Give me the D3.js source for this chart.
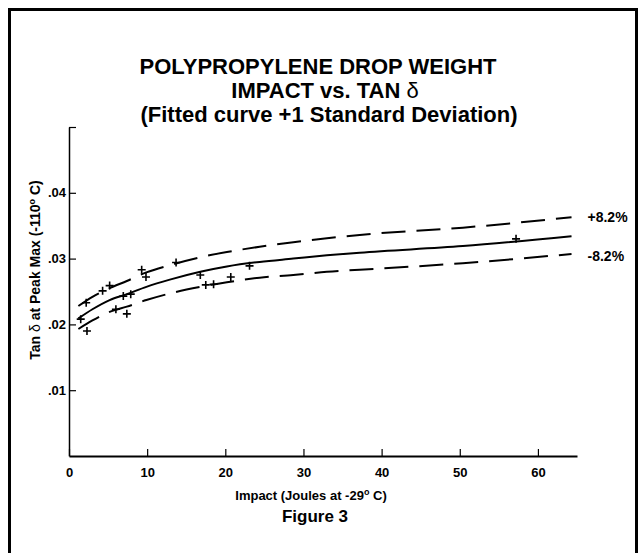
<html lang="en">
  <head>
    <meta charset="UTF-8" />
    <title>Polypropylene drop weight impact vs tan delta</title>
    <script src="https://d3js.org/d3.v7.min.js"></script>
  </head>
  <style>
    body { margin: 0; background: #fff; }
    text { font-family: "Liberation Sans", Arial, sans-serif; fill: #000; }
  </style>
  <body>
    <svg></svg>
  </body>
  <footer>
    <script>
      // fitted curve and the +/- 8.2% band
      var curveX = [1.2, 3, 5.2, 7.4, 9.9, 12.9, 16.8, 20.2, 24.4, 28.7, 33, 37.2, 50.4, 64.3];
      var fitY = [0.0209, 0.0223, 0.0237, 0.0246, 0.0257, 0.0268, 0.028, 0.0288, 0.0295, 0.03, 0.0305, 0.0309, 0.0319, 0.0334];
      var upperY = [0.0228, 0.0242, 0.0255, 0.0266, 0.0279, 0.029, 0.0302, 0.031, 0.0318, 0.0325, 0.0331, 0.0336, 0.0347, 0.0363];
      var lowerY = [0.0193, 0.0206, 0.0219, 0.0227, 0.0237, 0.0247, 0.0257, 0.0264, 0.0271, 0.0275, 0.028, 0.0283, 0.0293, 0.0307];

      // measured points
      var pointX = [1.5, 2.2, 2.3, 4.3, 5.2, 6.0, 6.95, 7.9, 7.4, 9.3, 9.85, 13.7, 16.8, 17.5, 18.5, 20.7, 23.1, 57.2];
      var pointY = [0.0208, 0.0233, 0.019, 0.0251, 0.0259, 0.0223, 0.0243, 0.0246, 0.0216, 0.0283, 0.0272, 0.0294, 0.0275, 0.026, 0.0261, 0.0272, 0.0289, 0.033];

      var xTicks = [0, 10, 20, 30, 40, 50, 60];
      var yTicks = [0.01, 0.02, 0.03, 0.04, 0.05];
      var bandLabels = ["+8.2%", "-8.2%"];

      var width = 639;
      var height = 553;

      var svg = d3.select("svg").attr("width", width).attr("height", height);

      // outer frame (bottom edge runs off the page)
      svg
        .append("rect")
        .attr("x", 9.5)
        .attr("y", 9.5)
        .attr("width", 627)
        .attr("height", 580)
        .style("fill", "none")
        .style("stroke", "#000")
        .style("stroke-width", 3);

      var x = d3.scaleLinear().domain([0, 65]).range([69, 577]);
      var y = d3.scaleLinear().domain([0, 0.05]).range([456, 127]);

      // title
      var title = svg
        .append("text")
        .attr("text-anchor", "middle")
        .style("font-size", "22px")
        .style("font-weight", "bold");
      title.append("tspan").attr("x", 318).attr("y", 74).text("POLYPROPYLENE DROP WEIGHT");
      var t2 = title.append("tspan").attr("x", 325).attr("y", 98);
      t2.append("tspan").text("IMPACT vs. TAN ");
      t2.append("tspan").style("font-weight", "normal").text("\u03b4");
      title.append("tspan").attr("x", 329).attr("y", 122).text("(Fitted curve +1 Standard Deviation)");

      // axes
      var xAxis = d3
        .axisBottom(x)
        .tickValues(xTicks)
        .tickSizeInner(-7)
        .tickSizeOuter(0)
        .tickPadding(12)
        .tickFormat(d3.format("d"));

      var yAxis = d3
        .axisLeft(y)
        .tickValues(yTicks)
        .tickSizeInner(-7)
        .tickSizeOuter(0)
        .tickPadding(3)
        .tickFormat(function (d) {
          return d === 0.05 ? "" : d3.format(".2f")(d).replace(/^0/, "");
        });

      var gx = svg.append("g").attr("transform", "translate(0," + y(0) + ")").call(xAxis);
      gx.selectAll("text").style("font-size", "13px").style("font-weight", "bold");
      gx.select(".domain").style("stroke-width", 2);

      var gy = svg.append("g").attr("transform", "translate(" + x(0) + ",0)").call(yAxis);
      gy.selectAll("text").style("font-size", "13px").style("font-weight", "bold");
      gy.select(".domain").style("stroke-width", 1.5);

      svg.selectAll(".tick line").style("stroke-width", 1.2);

      // axis titles
      var yTitle = svg
        .append("text")
        .attr("transform", "translate(40,270) rotate(-90)")
        .attr("text-anchor", "middle")
        .style("font-size", "14px")
        .style("font-weight", "bold");
      yTitle.append("tspan").text("Tan ");
      yTitle.append("tspan").style("font-weight", "normal").text("\u03b4");
      yTitle.append("tspan").text(" at Peak Max (-110");
      yTitle.append("tspan").attr("dy", -5).style("font-size", "9px").text("o");
      yTitle.append("tspan").attr("dy", 5).text(" C)");

      var xTitle = svg
        .append("text")
        .attr("x", 311)
        .attr("y", 500)
        .attr("text-anchor", "middle")
        .style("font-size", "13px")
        .style("font-weight", "bold");
      xTitle.append("tspan").text("Impact (Joules at -29");
      xTitle.append("tspan").attr("dy", -5).style("font-size", "9px").text("o");
      xTitle.append("tspan").attr("dy", 5).text(" C)");

      svg
        .append("text")
        .attr("x", 315)
        .attr("y", 522)
        .attr("text-anchor", "middle")
        .style("font-size", "17px")
        .style("font-weight", "bold")
        .text("Figure 3");

      // curves
      var line = function (ys) {
        return d3
          .line()
          .x(function (d, i) { return x(curveX[i]); })
          .y(function (d) { return y(d); })
          .curve(d3.curveMonotoneX)(ys);
      };

      svg
        .append("path")
        .attr("d", line(fitY))
        .style("fill", "none")
        .style("stroke", "#000")
        .style("stroke-width", 2);

      svg
        .selectAll(".band")
        .data([upperY, lowerY])
        .join("path")
        .attr("class", "band")
        .attr("d", function (d) { return line(d); })
        .style("fill", "none")
        .style("stroke", "#000")
        .style("stroke-width", 2)
        .style("stroke-dasharray", "24,11");

      svg
        .selectAll(".bandLabel")
        .data([upperY, lowerY])
        .join("text")
        .attr("class", "bandLabel")
        .attr("x", x(curveX[curveX.length - 1]) + 16)
        .attr("y", function (d, i) { return y(d[d.length - 1]) + (i === 0 ? 5 : 7); })
        .style("font-size", "14px")
        .style("font-weight", "bold")
        .text(function (d, i) { return bandLabels[i]; });

      // data points as plus signs
      svg
        .append("g")
        .selectAll("path")
        .data(pointX)
        .join("path")
        .attr("d", function (d, i) {
          var px = x(d), py = y(pointY[i]);
          return "M" + (px - 4) + "," + py + "H" + (px + 4) + "M" + px + "," + (py - 4) + "V" + (py + 4);
        })
        .style("stroke", "#000")
        .style("stroke-width", 1.6);
    </script>
  </footer>
</html>
